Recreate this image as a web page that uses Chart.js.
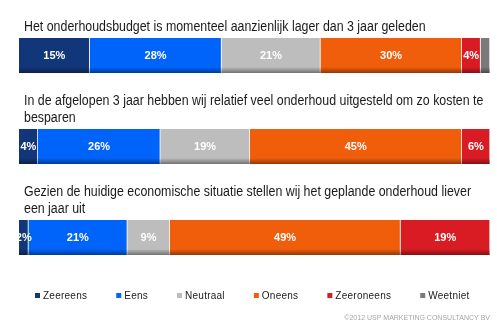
<!DOCTYPE html>
<html>
<head>
<meta charset="utf-8">
<script src="https://cdn.jsdelivr.net/npm/chart.js@4/dist/chart.umd.min.js"></script>
<style>
html,body{margin:0;padding:0;background:#fff;}
#wrap{width:497px;height:326px;position:relative;}
</style>
</head>
<body>
<div id="wrap"><canvas id="c" width="497" height="326"></canvas></div>
<script>
const categories = [
  ["Het onderhoudsbudget is momenteel aanzienlijk lager dan 3 jaar geleden"],
  ["In de afgelopen 3 jaar hebben wij relatief veel onderhoud uitgesteld om zo kosten te", "besparen"],
  ["Gezien de huidige economische situatie stellen wij het geplande onderhoud liever", "een jaar uit"]
];
const seriesNames = ["Zeereens", "Eens", "Neutraal", "Oneens", "Zeeroneens", "Weetniet"];
const zeerEens   = [15, 4, 2];
const eens       = [28, 26, 21];
const neutraal   = [21, 19, 9];
const oneens     = [30, 45, 49];
const zeerOneens = [4, 6, 19];
const weetNiet   = [2, 0, 0];
const seriesValues = [zeerEens, eens, neutraal, oneens, zeerOneens, weetNiet];
const seriesColors = ["#12367a", "#0064fa", "#bdbdbd", "#f05e0b", "#d91c24", "#7a7a7a"];
const showLabel = [true, true, true, true, true, false];
const footer = "\u00A92012 USP MARKETING CONSULTANCY BV";

const BAR_T = 35;

const decorPlugin = {
  id: 'decor',
  afterDatasetsDraw(chart) {
    const ctx = chart.ctx;
    chart.data.datasets.forEach((ds, di) => {
      const meta = chart.getDatasetMeta(di);
      meta.data.forEach((el, i) => {
        const v = ds.data[i];
        if (!v) return;
        const left = Math.min(el.x, el.base), right = Math.max(el.x, el.base);
        const bottom = el.y + el.height / 2;
        const g = ctx.createLinearGradient(0, bottom - 6, 0, bottom);
        g.addColorStop(0, 'rgba(0,0,0,0)');
        g.addColorStop(1, 'rgba(0,0,0,0.4)');
        ctx.save();
        ctx.fillStyle = g;
        ctx.fillRect(left, bottom - 6, right - left, 6);
        ctx.restore();
      });
    });
    ctx.save();
    ctx.font = 'bold 11px "Liberation Sans", Arial, sans-serif';
    ctx.fillStyle = '#ffffff';
    ctx.textAlign = 'center';
    ctx.textBaseline = 'middle';
    chart.data.datasets.forEach((ds, di) => {
      if (!showLabel[di]) return;
      const meta = chart.getDatasetMeta(di);
      meta.data.forEach((el, i) => {
        const v = ds.data[i];
        if (!v) return;
        ctx.fillText(v + '%', (el.x + el.base) / 2, el.y);
      });
    });
    ctx.restore();
  },
  afterDraw(chart) {
    const ctx = chart.ctx;
    const ys = chart.scales.y;
    const area = chart.chartArea;
    ctx.save();
    ctx.font = '14px "Liberation Sans", Arial, sans-serif';
    ctx.fillStyle = '#1a1a1a';
    ctx.textAlign = 'left';
    ctx.textBaseline = 'middle';
    categories.forEach((lines, i) => {
      const top = ys.getPixelForValue(i) - BAR_T / 2;
      for (let k = 0; k < lines.length; k++) {
        const y = top - 11 - (lines.length - 1 - k) * 16.5;
        ctx.save();
        ctx.translate(area.left + 5, y);
        ctx.scale(0.885, 1);
        ctx.fillText(lines[k], 0, 0);
        ctx.restore();
      }
    });
    ctx.font = '10px "Liberation Sans", Arial, sans-serif';
    if ('letterSpacing' in ctx) ctx.letterSpacing = '0.25px';
    let x = area.left + 16;
    const ly = area.bottom + 13;
    chart.data.datasets.forEach((ds, di) => {
      ctx.fillStyle = ds.backgroundColor;
      ctx.fillRect(x, ly - 3, 5, 5);
      ctx.fillStyle = '#222';
      ctx.fillText(ds.label, x + 8, ly);
      x += 8 + ctx.measureText(ds.label).width + 29;
    });
    if ('letterSpacing' in ctx) ctx.letterSpacing = '0px';
    ctx.font = '7px "Liberation Sans", Arial, sans-serif';
    ctx.fillStyle = '#a6a6a6';
    ctx.textAlign = 'right';
    ctx.fillText(footer, area.right, 318);
    ctx.restore();
  }
};

new Chart(document.getElementById('c'), {
  type: 'bar',
  data: {
    labels: categories.map(l => l.join(' ')),
    datasets: seriesNames.map((n, i) => ({
      label: n,
      data: seriesValues[i],
      backgroundColor: seriesColors[i],
      borderColor: 'rgba(255,255,255,0.55)',
      borderWidth: {top: 0, bottom: 0, left: 0, right: 1},
      borderSkipped: false,
      barThickness: BAR_T
    }))
  },
  options: {
    indexAxis: 'y',
    responsive: false,
    animation: false,
    layout: { padding: { left: 19, right: 7, top: 10, bottom: 43 } },
    scales: {
      x: { stacked: true, min: 0, max: 100, display: false },
      y: { stacked: true, display: false, offset: true }
    },
    plugins: {
      legend: { display: false },
      tooltip: { enabled: false }
    }
  },
  plugins: [decorPlugin]
});
</script>
</body>
</html>
